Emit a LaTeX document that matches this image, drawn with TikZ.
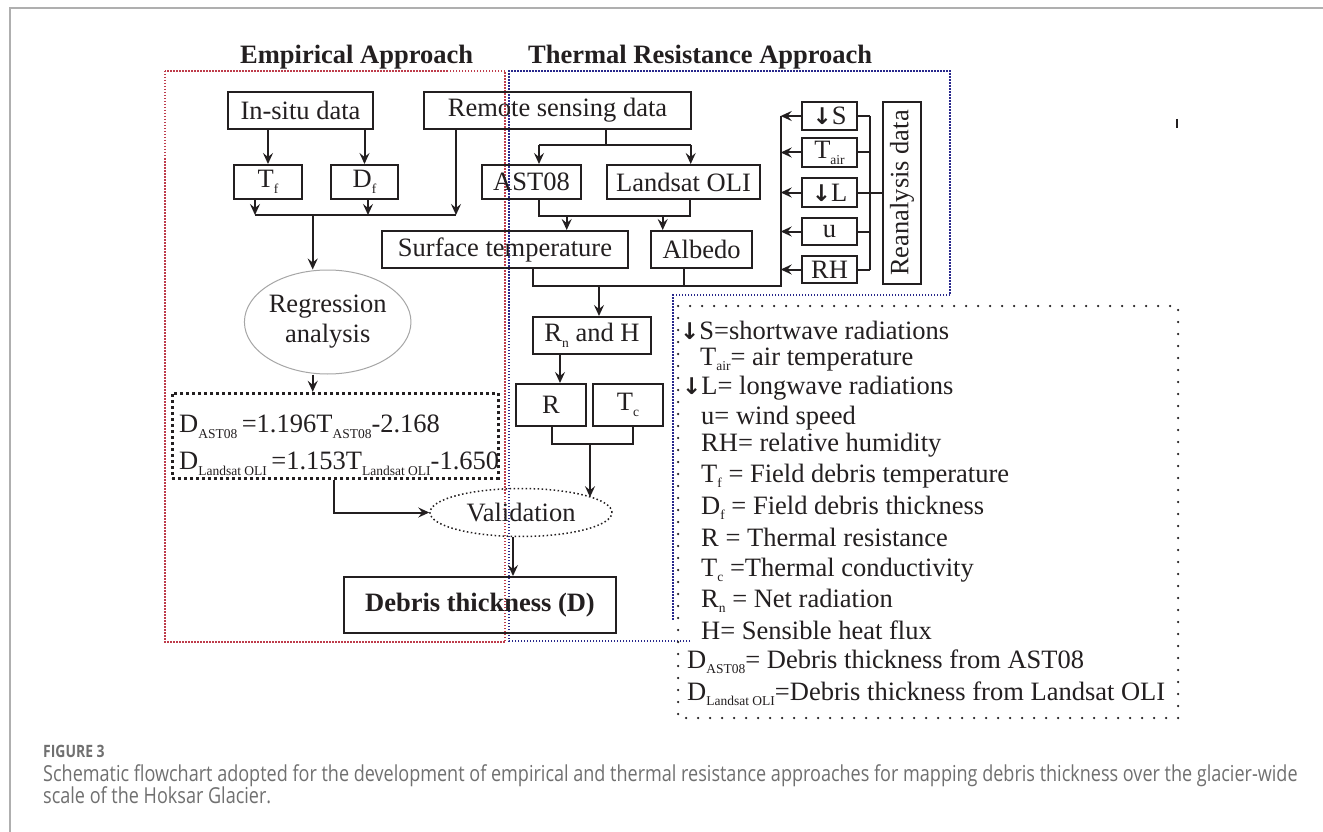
\documentclass[tikz,border=0pt]{standalone}
\usepackage{fontspec}
\setmainfont{Liberation Serif}
\newfontfamily\capfont[FakeStretch=0.82]{Open Sans}
\newfontfamily\symfont{DejaVu Sans}
\usetikzlibrary{shapes.geometric,arrows.meta}
\definecolor{ink}{RGB}{35,31,32}
\definecolor{redbox}{RGB}{190,60,75}
\definecolor{bluebox}{RGB}{40,40,140}
\definecolor{framegray}{RGB}{175,175,175}
\definecolor{capgray}{RGB}{112,112,112}
\newcommand{\sbx}[1]{\raisebox{-0.22em}{\fontsize{13.5}{14}\selectfont #1}}
\newcommand{\dn}{{\symfont\bfseries\fontsize{23}{23}\selectfont ↓}}
\tikzset{
  bx/.style={draw=ink, line width=2pt, inner sep=0pt, text=ink},
  ln/.style={draw=ink, line width=2pt},
  arr/.style={ln, -{Stealth[length=11pt,width=10pt,inset=4pt]}},
  lg/.style={anchor=base west, inner sep=0pt, text=ink},
  ttl/.style={anchor=base west, inner sep=0pt, text=ink, font=\fontsize{26.5}{30}\selectfont\bfseries},
  captxt/.style={anchor=base west, inner sep=0pt, text=capgray, font=\capfont\fontsize{22}{26}\selectfont},
}
\begin{document}
\begin{tikzpicture}[x=1pt,y=-1pt,font=\fontsize{26.5}{30}\selectfont]
\useasboundingbox[fill=white] (0,0) rectangle (1323,832);
% page frame
\draw[framegray, line width=2pt] (1323,8) -- (10,8) -- (10,832);
\draw[ink, line width=2.5pt] (1177,119) -- (1177,128);

% approach frames
\draw[redbox, line width=2pt, dash pattern=on 1.5pt off 1.5pt] (165,71) rectangle (505,642);
\draw[bluebox, line width=2pt, dash pattern=on 1.5pt off 1.5pt]
  (690,641) -- (509,641) -- (509,71) -- (950,71) -- (950,295) -- (673,295) -- (673,621);

% titles
\node[ttl] (t1) at (240,64) {Empirical Approach};
\node[ttl] (t2) at (528,64) {Thermal Resistance Approach};

% boxes
\node[bx, minimum width=145pt, minimum height=37pt] (insitu) at (300.5,110.5) {In-situ data};
\node[bx, minimum width=267pt, minimum height=37pt] (remote) at (557.5,110.5) {Remote sensing data};
\node[bx, minimum width=68pt, minimum height=34pt] (Tf) at (268,182) {T\sbx{f}};
\node[bx, minimum width=67pt, minimum height=34pt] (Df) at (364.5,182) {D\sbx{f}};
\node[bx, minimum width=99pt, minimum height=34pt] (ast) at (531.5,182) {AST08};
\node[bx, minimum width=153pt, minimum height=34pt] (land) at (683.5,182) {Landsat OLI};
\node[bx, minimum width=246pt, minimum height=37pt] (surf) at (505,249.5) {Surface temperature};
\node[bx, minimum width=101pt, minimum height=37pt] (alb) at (701.5,249.5) {Albedo};
\node[bx, minimum width=118pt, minimum height=37pt] (rnh) at (592,335.5) {R\sbx{n} and H};
\node[bx, minimum width=70pt, minimum height=42pt] (R) at (551,405) {R};
\node[bx, minimum width=70pt, minimum height=42pt] (Tc) at (628,405) {T\sbx{c}};
\node[bx, minimum width=272pt, minimum height=56pt, font=\fontsize{26.5}{30}\selectfont\bfseries] (deb) at (480,605) {Debris thickness (D)};

% reanalysis
\node[bx, minimum width=55pt, minimum height=28pt] (rS) at (829.5,116) {\dn S};
\node[bx, minimum width=55pt, minimum height=29pt] (rT) at (829.5,152.5) {T\sbx{air}};
\node[bx, minimum width=55pt, minimum height=29pt] (rL) at (829.5,192.5) {\dn L};
\node[bx, minimum width=55pt, minimum height=27pt] (ru) at (829.5,231.5) {u};
\node[bx, minimum width=55pt, minimum height=27pt] (rH) at (829.5,269.5) {RH};
\node[bx, minimum width=182pt, minimum height=38pt, rotate=90] (rea) at (902,193) {Reanalysis data};

% ellipses
\node[ellipse, draw=gray!70, line width=1pt, minimum width=160pt, minimum height=104pt, inner sep=0pt, align=center, text=ink] (reg) at (327.7,322) {Regression\\analysis};
\node[ellipse, draw=ink, line width=1.5pt, dash pattern=on 1.5pt off 2.5pt, minimum width=182pt, minimum height=48pt, inner sep=0pt, text=ink] (val) at (521,512.5) {Validation};

% equation box
\node[draw=ink, line width=3pt, dash pattern=on 3pt off 3pt, minimum width=326pt, minimum height=85pt, inner sep=0pt] (eqb) at (335,435.8) {};
\node[lg] (eq1) at (179,432.7) {D\sbx{AST08}\,=1.196T\sbx{AST08}-2.168};
\node[lg] (eq2) at (179,469.3) {D\sbx{Landsat OLI}\,=1.153T\sbx{Landsat OLI}-1.650};

% connector helper coordinates
\coordinate (jl) at (255,215);
\coordinate (jd) at (368,215);
\coordinate (jm) at (312.7,215);
\coordinate (jr) at (456,215);
\coordinate (e1) at (334,478);
\coordinate (rs) at (606,145);
\coordinate (a1) at (539,145);
\coordinate (a2) at (690.7,145);
\coordinate (b1) at (539,216);
\coordinate (b2) at (690,216);
\coordinate (b3) at (566.7,216);
\coordinate (b4) at (662.7,216);
\coordinate (c1) at (533.3,286);
\coordinate (c2) at (684.3,286);
\coordinate (c3) at (780.7,286);
\coordinate (c4) at (599,286);
\coordinate (r1) at (870,193);
\coordinate (d1) at (560,384);
\coordinate (f1) at (551.7,444.3);
\coordinate (f2) at (633.3,444.3);
\coordinate (f3) at (590,444.3);
\coordinate (g1) at (513,577);

% empirical connectors
\draw[arr] (Tf.north |- insitu.south) -- (Tf.north);
\draw[arr] (Df.north |- insitu.south) -- (Df.north);
\draw[arr] (Tf.south -| jl) -- (jl);
\draw[arr] (Df.south -| jd) -- (jd);
\draw[arr] (remote.south -| jr) -- (jr);
\draw[ln] (jl) -- (jr);
\draw[arr] (jm) -- (reg.north -| jm);
\draw[arr] (reg.south -| jm) -- (eqb.north -| jm);
\draw[arr] (eqb.south -| e1) |- (val.west);

% thermal connectors
\draw[ln] (remote.south -| rs) -- (rs);
\draw[ln] (a1) -- (a2);
\draw[arr] (a1) -- (ast.north -| a1);
\draw[arr] (a2) -- (land.north -| a2);
\draw[ln] (ast.south -| b1) -- (b1) -- (b2) -- (land.south -| b2);
\draw[arr] (b3) -- (surf.north -| b3);
\draw[arr] (b4) -- (alb.north -| b4);
\draw[ln] (surf.south -| c1) -- (c1) -- (c3) -- (c3 |- rS.west);
\draw[ln] (alb.south -| c2) -- (c2);
\draw[arr] (c4) -- (rnh.north -| c4);
\foreach \b in {rS,rT,rL,ru,rH} {
  \draw[arr] (\b.west) -- (\b.west -| c3);
  \draw[ln] (\b.east) -- (\b.east -| r1);
}
\draw[ln] (r1 |- rS.east) -- (r1 |- rH.east);
\draw[ln] (r1 |- rL.east) -- (rea.north |- rL.east);
\draw[arr] (rnh.south -| d1) -- (R.north -| d1);
\draw[ln] (R.south -| f1) -- (f1) -- (f2) -- (Tc.south -| f2);
\draw[arr] (f3) -- (f3 |- val.12.7);
\draw[arr] (val.south -| g1) -- (deb.north -| g1);

% legend
\draw[ink, line width=2.5pt, line cap=round, dash pattern=on 0pt off 12pt] (678,306) rectangle (1178,718);
\node[lg] (l1) at (680,339) {\dn S=shortwave radiations};
\node[lg] (l2) at (700,365) {T\sbx{air}= air temperature};
\node[lg] (l3) at (682,394) {\dn L= longwave radiations};
\node[lg] (l4) at (701,424) {u= wind speed};
\node[lg] (l5) at (701,451) {RH= relative humidity};
\node[lg] (l6) at (701,482) {T\sbx{f} = Field debris temperature};
\node[lg] (l7) at (701,514) {D\sbx{f} = Field debris thickness};
\node[lg] (l8) at (701,546) {R = Thermal resistance};
\node[lg] (l9) at (701,576) {T\sbx{c} =Thermal conductivity};
\node[lg] (l10) at (701,607) {R\sbx{n} = Net radiation};
\node[lg] (l11) at (701,639) {H= Sensible heat flux};
\node[lg] (l12) at (687,668) {D\sbx{AST08}= Debris thickness from AST08};
\node[lg] (l13) at (687,700) {D\sbx{Landsat OLI}=Debris thickness from Landsat OLI};

% caption
\node[captxt, font=\capfont\bfseries\fontsize{17}{20}\selectfont] (fig) at (43,757) {FIGURE 3};
\node[captxt] (cap1) at (43,781) {Schematic flowchart adopted for the development of empirical and thermal resistance approaches for mapping debris thickness over the glacier-wide};
\node[captxt] (cap2) at (43,803) {scale of the Hoksar Glacier.};
\end{tikzpicture}
\end{document}
